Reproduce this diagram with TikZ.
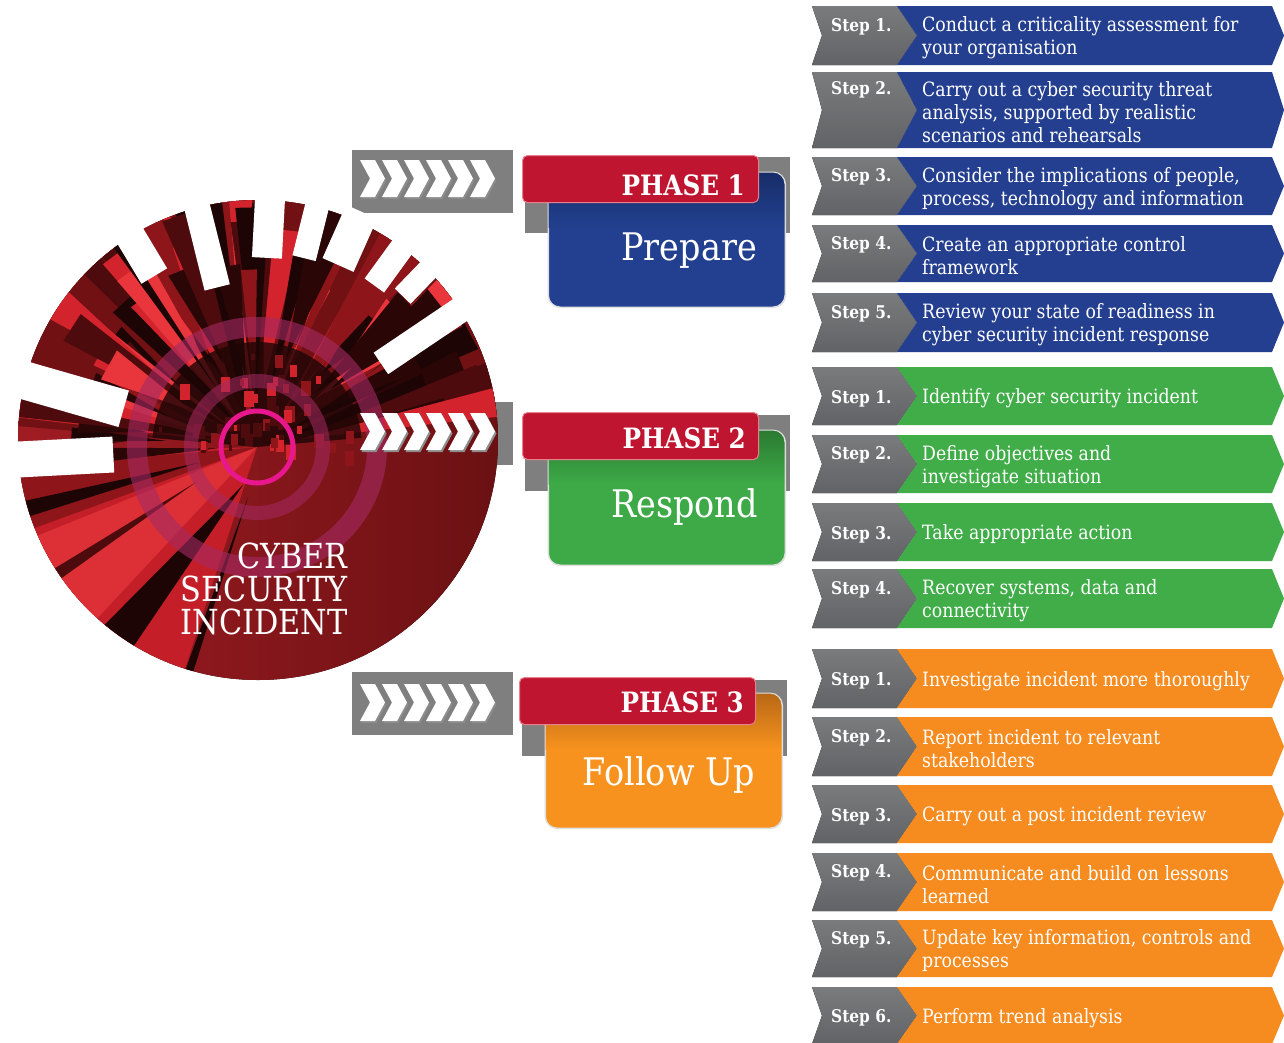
\documentclass[tikz,border=0pt]{standalone}
\usepackage{fontspec}
\setmainfont{DejaVu Serif}[FakeStretch=0.88]
\usetikzlibrary{calc}
\definecolor{barblue}{HTML}{243F8F}
\definecolor{bargreen}{HTML}{40AD49}
\definecolor{barorange}{HTML}{F68B1F}
\definecolor{bargreyA}{HTML}{7A7B7D}
\definecolor{bargreyB}{HTML}{626366}
\definecolor{phred}{HTML}{C01530}
\definecolor{phredline}{HTML}{E8808C}
\definecolor{backgrey}{HTML}{7F7F7F}
\definecolor{boxblue}{HTML}{22408F}
\definecolor{boxblueD}{HTML}{172D68}
\definecolor{boxgreen}{HTML}{3DAA47}
\definecolor{boxgreenD}{HTML}{2A7A31}
\definecolor{boxorange}{HTML}{F7921E}
\definecolor{boxorangeD}{HTML}{B86816}
\definecolor{discL}{HTML}{A01C23}
\definecolor{discR}{HTML}{6B1113}
\definecolor{sh0}{HTML}{D3242D}
\definecolor{sh1}{HTML}{1E0505}
\definecolor{sh2}{HTML}{4E0B0D}
\definecolor{sh3}{HTML}{E8363C}
\definecolor{sh4}{HTML}{8E1519}
\definecolor{sh5}{HTML}{2A0607}
\definecolor{brightred}{HTML}{C41F28}
\definecolor{ringc}{HTML}{A52A63}
\definecolor{magring}{HTML}{E8178D}
\tikzset{
  steptext/.style={anchor=west, inner sep=0pt, text=white, align=left, font=\fontsize{19.7}{23}\selectfont},
  steplabel/.style={anchor=west, inner sep=0pt, text=white, font=\bfseries\fontsize{17.5}{20}\selectfont},
  chev/.style={fill=white},
  chevshadow/.style={fill=black!45},
  chevbox/.style={fill=backgrey, inner sep=0pt, anchor=north west},
  phasetag/.style={fill=phred, draw=phredline, line width=1pt, rounded corners=5pt, inner sep=0pt, anchor=north west},
  phasebox/.style={draw=white!75!gray, line width=1pt, rounded corners=12pt, inner sep=0pt, anchor=north west},
  phasetitle/.style={anchor=base east, inner sep=0pt, text=white, font=\bfseries\fontsize{28}{30}\selectfont},
  phaseword/.style={anchor=base east, inner sep=0pt, text=white, font=\fontsize{38}{40}\selectfont},
  disctext/.style={anchor=base east, inner sep=0pt, text=white, font=\fontsize{34.5}{34}\selectfont},
}
% #1 name, #2 top, #3 bottom, #4 colour, #5 number, #6 lines, #7 text
\newcommand\stepbar[7]{%
  \pgfmathsetmacro\ymid{(#2+#3)/2}%
  \pgfmathsetmacro\ylab{\ymid-(#6-1)*11.5+2.5}%
  \pgfmathsetmacro\ytxt{\ymid+2.5}%
  \fill[top color=bargreyA, bottom color=bargreyB] (812,#2) -- (897,#2) -- (917,\ymid) -- (897,#3) -- (812,#3) -- (822,\ymid) -- cycle;
  \fill[#4] (897,#2) -- (1272,#2) -- (1284,\ymid) -- (1272,#3) -- (897,#3) -- (917,\ymid) -- cycle;
  \node[steplabel] (#1l) at (831,\ylab) {Step #5.};
  \node[steptext] (#1t) at (922,\ytxt) {#7};
}
% #1 top, #2 bottom
\newcommand\chevrons[2]{%
  \pgfmathsetmacro\chmid{(#1+#2)/2}%
  \foreach \j in {0,...,5}{%
    \pgfmathsetmacro\cx{360+22*\j}%
    \fill[chevshadow] ({\cx+1.5},{#1+2}) -- ({\cx+16.5},{#1+2}) -- ({\cx+26.5},{\chmid+2}) -- ({\cx+16.5},{#2+2}) -- ({\cx+1.5},{#2+2}) -- ({\cx+11.5},{\chmid+2}) -- cycle;
    \fill[chev] (\cx,#1) -- ({\cx+15},#1) -- ({\cx+25},\chmid) -- ({\cx+15},#2) -- (\cx,#2) -- ({\cx+10},\chmid) -- cycle;
  }%
}
% #1 n, #2 grey y top, #3 tag x, #4 tag y, #5 box x, #6 box y, #7 colour, #8 dark colour
\newcommand\phase[8]{%
  \fill[backgrey] ({#3+3},{#2}) rectangle ({#3+268},{#2+76});
  \node[phasebox, fill=#7, minimum width=237pt, minimum height=135pt] (box#1) at (#5,#6) {};
  \begin{scope}
    \clip[rounded corners=12pt] (#5,#6) rectangle ({#5+237},{#6+135});
    \fill[top color=#8, bottom color=#7] (#5,#6) rectangle ({#5+237},{#4+72});
  \end{scope}
  \draw[white!75!gray, line width=1pt, rounded corners=12pt] (#5,#6) rectangle ({#5+237},{#6+135});
  \node[phasetag, minimum width=236pt, minimum height=47pt] (tag#1) at (#3,#4) {};
}
\begin{document}
\begin{tikzpicture}[x=1pt,y=-1pt]
\useasboundingbox (0,0) rectangle (1284,1042);
\fill[white] (0,0) rectangle (1284,1042);

% ---------- chevron boxes (phase 2 box lies behind the disc)
\node[chevbox, minimum width=161pt, minimum height=63pt] (chevbox1) at (352,150) {};
\node[chevbox, minimum width=161pt, minimum height=63pt] (chevbox2) at (352,402) {};
\node[chevbox, minimum width=161pt, minimum height=63pt] (chevbox3) at (352,672) {};

% ---------- disc
\begin{scope}
  \clip (258,440) circle[radius=240pt];
  \fill[left color=discL, right color=discR] (18,200) rectangle (498,680);
  \begin{scope}[shift={(257,447)}]
    % upper dark field
    \fill[sh4!80!black] (0,0) -- plot[domain=185:350, samples=40] (\x:260) -- cycle;
    % lower-left bright field
    \fill[brightred] (0,0) -- plot[domain=108:178, samples=30] (\x:260) -- cycle;
    \fill[sh3!70!brightred] (0,0) -- plot[domain=133:158, samples=10] (\x:260) -- cycle;
    \fill[sh4] (0,0) -- plot[domain=160:175, samples=10] (\x:260) -- cycle;
    \fill[sh1] (110:40) -- (122:260) -- (131:260) -- cycle;
    \fill[sh1] (165:60) -- (163:260) -- (167:260) -- cycle;
    \fill[sh2] (150:70) -- (146:260) -- (149:260) -- cycle;
    \fill[sh1] (100:50) -- (106:260) -- (108:260) -- cycle;
    \fill[sh5] (178:40) -- (174:260) -- (180:260) -- cycle;
    % radial shards
    \pgfmathsetseed{12}
    \foreach \i in {1,...,85}{
      \pgfmathsetmacro\sa{182+172*rnd}
      \pgfmathsetmacro\sw{1.2+4.5*rnd}
      \pgfmathsetmacro\sra{25+90*rnd}
      \pgfmathsetmacro\srb{160+100*rnd}
      \pgfmathtruncatemacro\sk{mod(\i,6)}
      \fill[sh\sk] (\sa:\sra) -- ({\sa-\sw}:\srb) -- ({\sa+\sw}:\srb) -- cycle;
    }
    % dark core
    \fill[sh1, opacity=0.8] (0,0) -- plot[domain=185:355, samples=40] (\x:105) -- cycle;
    \pgfmathsetseed{5}
    \foreach \i in {1,...,55}{
      \pgfmathsetmacro\sa{175+190*rnd}
      \pgfmathsetmacro\sr{10+90*rnd}
      \pgfmathsetmacro\ss{3+7*rnd}
      \pgfmathtruncatemacro\sk{mod(\i,3)*2}
      \fill[sh\sk] ($(\sa:\sr)$) rectangle ++(\ss,{\ss*1.6});
    }
    % rings
    \draw[ringc, opacity=0.6, line width=20pt] (0,0) circle[radius=120pt];
    \draw[ringc, opacity=0.55, line width=14pt] (0,0) circle[radius=66pt];
  \end{scope}
\end{scope}
% white shards sticking out of the disc
\begin{scope}[shift={(257,447)}]
  \foreach \sa/\sra/\srb/\sh in {239/200/266/15, 256/165/256/13, 273/190/256/15, 284/195/254/12, 294/200/258/17, 306/200/252/12, 314/210/254/11, 326/150/254/13, 196/140/258/19, 177/145/254/18}{
    \fill[white] ({\sa-deg(\sh/\sra)}:\sra) -- ({\sa+deg(\sh/\sra)}:\sra) -- ({\sa+deg(\sh/\srb)}:\srb) -- ({\sa-deg(\sh/\srb)}:\srb) -- cycle;
  }
  \draw[magring, line width=5pt] (0,0) circle[radius=36pt];
\end{scope}
\node[disctext] (cyber1) at (348,568) {CYBER};
\node[disctext] (cyber2) at (348,601) {SECURITY};
\node[disctext] (cyber3) at (348,634) {INCIDENT};

% ---------- chevrons
\chevrons{160}{197}
\chevrons{413}{450}
\chevrons{684}{721}

% ---------- phase boxes
\phase{1}{157}{522}{155}{548}{172}{boxblue}{boxblueD}
\node[phasetitle] (title1) at (745,195) {PHASE 1};
\node[phaseword] (word1) at (757,260) {Prepare};
\phase{2}{415}{522}{412}{548}{430}{boxgreen}{boxgreenD}
\node[phasetitle] (title2) at (746,448) {PHASE 2};
\node[phaseword] (word2) at (758,517) {Respond};
\phase{3}{680}{519}{677}{545}{693}{boxorange}{boxorangeD}
\node[phasetitle] (title3) at (744,712) {PHASE 3};
\node[phaseword] (word3) at (755,785) {Follow Up};

% ---------- steps
\stepbar{b1}{6}{65}{barblue}{1}{2}{Conduct a criticality assessment for\\your organisation}
\stepbar{b2}{72}{148}{barblue}{2}{3}{Carry out a cyber security threat\\analysis, supported by realistic\\scenarios and rehearsals}
\stepbar{b3}{157}{215}{barblue}{3}{2}{Consider the implications of people,\\process, technology and information}
\stepbar{b4}{225}{282}{barblue}{4}{2}{Create an appropriate control\\framework}
\stepbar{b5}{293}{352}{barblue}{5}{2}{Review your state of readiness in\\cyber security incident response}
\stepbar{g1}{367}{425}{bargreen}{1}{1}{Identify cyber security incident}
\stepbar{g2}{435}{493}{bargreen}{2}{2}{Define objectives and\\investigate situation}
\stepbar{g3}{503}{561}{bargreen}{3}{1}{Take appropriate action}
\stepbar{g4}{569}{628}{bargreen}{4}{2}{Recover systems, data and\\connectivity}
\stepbar{o1}{649}{708}{barorange}{1}{1}{Investigate incident more thoroughly}
\stepbar{o2}{717}{776}{barorange}{2}{2}{Report incident to relevant\\stakeholders}
\stepbar{o3}{785}{843}{barorange}{3}{1}{Carry out a post incident review}
\stepbar{o4}{853}{911}{barorange}{4}{2}{Communicate and build on lessons\\learned}
\stepbar{o5}{920}{977}{barorange}{5}{2}{Update key information, controls and\\processes}
\stepbar{o6}{987}{1044}{barorange}{6}{1}{Perform trend analysis}
\end{tikzpicture}
\end{document}
